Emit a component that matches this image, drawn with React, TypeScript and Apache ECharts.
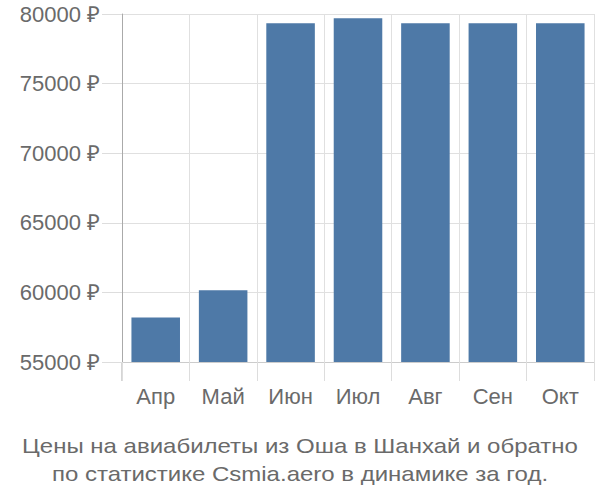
import React, { useEffect, useRef } from "react";
import * as echarts from "echarts";

const categories = ["Апр", "Май", "Июн", "Июл", "Авг", "Сен", "Окт"];
const prices = [58200, 60150, 79330, 79690, 79330, 79330, 79330];
const yTicks = { min: 55000, max: 80000, interval: 5000 };
const titleLines = [
  "Цены на авиабилеты из Оша в Шанхай и обратно",
  "по статистике Csmia.aero в динамике за год.",
];

export default function App() {
  const ref = useRef<HTMLDivElement>(null);
  useEffect(() => {
    document.body.style.margin = "0";
    if (!ref.current) return;
    const chart = echarts.init(ref.current, null, { renderer: "svg" });
    const font = "'Liberation Sans', Arial, sans-serif";
    chart.setOption({
      animation: false,
      grid: { left: 122, right: 6, top: 14, bottom: 138 },
      xAxis: {
        type: "category",
        data: categories,
        axisLine: { show: true, lineStyle: { color: "#ccc" } },
        axisTick: { show: true, length: 19, lineStyle: { color: "#ddd" } },
        splitLine: { show: true, lineStyle: { color: "#e0e0e0" } },
        axisLabel: {
          fontFamily: font,
          fontSize: 22,
          color: "#6a6a6a",
          margin: 23,
        },
      },
      yAxis: {
        type: "value",
        min: yTicks.min,
        max: yTicks.max,
        interval: yTicks.interval,
        axisLine: { show: true, lineStyle: { color: "#aaa" } },
        axisTick: { show: true, length: 20, lineStyle: { color: "#ddd" } },
        splitLine: { show: true, lineStyle: { color: "#e0e0e0" } },
        axisLabel: {
          fontFamily: font,
          fontSize: 22,
          color: "#6a6a6a",
          margin: 22,
          formatter: (v: number) => `${v} ₽`,
        },
      },
      series: [
        {
          type: "bar",
          data: prices,
          barCategoryGap: "28%",
          itemStyle: { color: "#4e79a7" },
        },
      ],
      graphic: [
        {
          type: "line",
          shape: { x1: 122, y1: 362, x2: 122, y2: 381 },
          style: { stroke: "#aaa", lineWidth: 1 },
        },
        ...titleLines.map((t, i) => ({
          type: "text",
          x: 300,
          y: 446 + i * 28,
          scaleX: 1.2,
          style: {
            text: t,
            font: `20px ${font}`,
            fill: "#6a6a6a",
            textAlign: "center",
            textVerticalAlign: "middle",
          },
        })),
      ],
    });
    return () => chart.dispose();
  }, []);
  return <div ref={ref} style={{ width: 600, height: 500 }} />;
}
